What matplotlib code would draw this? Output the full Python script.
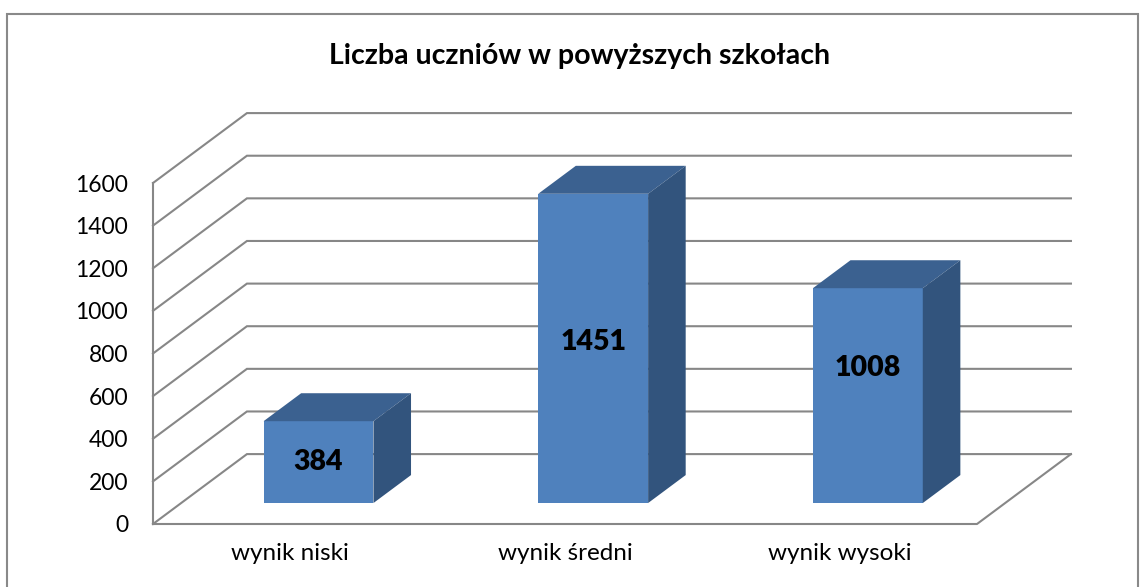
import matplotlib.pyplot as plt
from matplotlib.patches import Polygon, Rectangle

categories = ["wynik niski", "wynik średni", "wynik wysoki"]
values = [384, 1451, 1008]
label_frac = [0.50, 0.52, 0.63]  # where Excel put the value labels on the bars
yticks = [0, 200, 400, 600, 800, 1000, 1200, 1400, 1600]
title = "Liczba uczniów w powyższych szkołach"

plt.rcParams['font.family'] = ['Lato', 'DejaVu Sans']

# oblique projection of the 3-D box
DX = 0.342   # depth shift in category units
DY = 328.0   # depth shift in value units
ymax = 1600
ncat = len(categories)

front_c = "#4F81BD"
top_c = "#3B6190"
side_c = "#32547D"
grid_c = "#878787"


def proj(x, y, d):
    return x + d * DX, y + d * DY


fig = plt.figure(figsize=(11.4, 5.87), dpi=100)
ax = fig.add_axes([153 / 1140, 63 / 587, 824 / 1140, 341 / 587])
ax.set_xlim(0, ncat)
ax.set_ylim(0, ymax)
for s in ax.spines.values():
    s.set_visible(False)
ax.patch.set_visible(False)

# walls and gridlines
for t in yticks:
    x0, y0 = proj(0, t, 0)
    x1, y1 = proj(0, t, 1)
    x2, y2 = proj(ncat, t, 1)
    ax.plot([x0, x1, x2], [y0, y1, y2], color=grid_c, lw=1.5,
            clip_on=False, solid_joinstyle='miter', zorder=1)
ax.plot([0, 0], [0, ymax], color=grid_c, lw=1.5, clip_on=False, zorder=1)
# floor front and right edge
fx, fy = proj(ncat, 0, 1)
ax.plot([0, ncat, fx], [0, 0, fy], color=grid_c, lw=1.5, clip_on=False, zorder=1)

# bars
d0, dd, w = 0.30, 0.40, 0.40
for i, v in enumerate(values):
    left = i + 0.5 - w / 2
    bx, by = proj(left, 0, d0)
    front = Rectangle((bx, by), w, v, facecolor=front_c, edgecolor='none', zorder=3)
    top = Polygon([(bx, by + v), (bx + w, by + v),
                   (bx + w + dd * DX, by + v + dd * DY), (bx + dd * DX, by + v + dd * DY)],
                  closed=True, facecolor=top_c, edgecolor='none', zorder=3)
    side = Polygon([(bx + w, by), (bx + w, by + v),
                    (bx + w + dd * DX, by + v + dd * DY), (bx + w + dd * DX, by + dd * DY)],
                   closed=True, facecolor=side_c, edgecolor='none', zorder=3)
    for p in (front, top, side):
        p.set_clip_on(False)
        ax.add_patch(p)
    ax.text(bx + w / 2, by + v * label_frac[i], str(v), ha='center', va='center',
            fontsize=20.5, fontweight='heavy', color='black', zorder=4)

ax.set_yticks(yticks)
ax.set_yticklabels([str(t) for t in yticks])
ax.set_xticks([i + 0.5 for i in range(ncat)])
ax.set_xticklabels(categories)
ax.tick_params(axis='y', length=0, pad=18, labelsize=16.5)
ax.tick_params(axis='x', length=0, pad=14, labelsize=17.5)

fig.text(580 / 1140, 1 - 56 / 587, title, ha='center', va='center',
         fontsize=20.5, fontweight='bold')

fig.patches.append(Rectangle((7 / 1140, -0.05), 1131 / 1140, 1.05 - 14 / 587,
                             transform=fig.transFigure, fill=False,
                             edgecolor='#898989', lw=1.5))

fig.savefig("out.png", dpi=100)
